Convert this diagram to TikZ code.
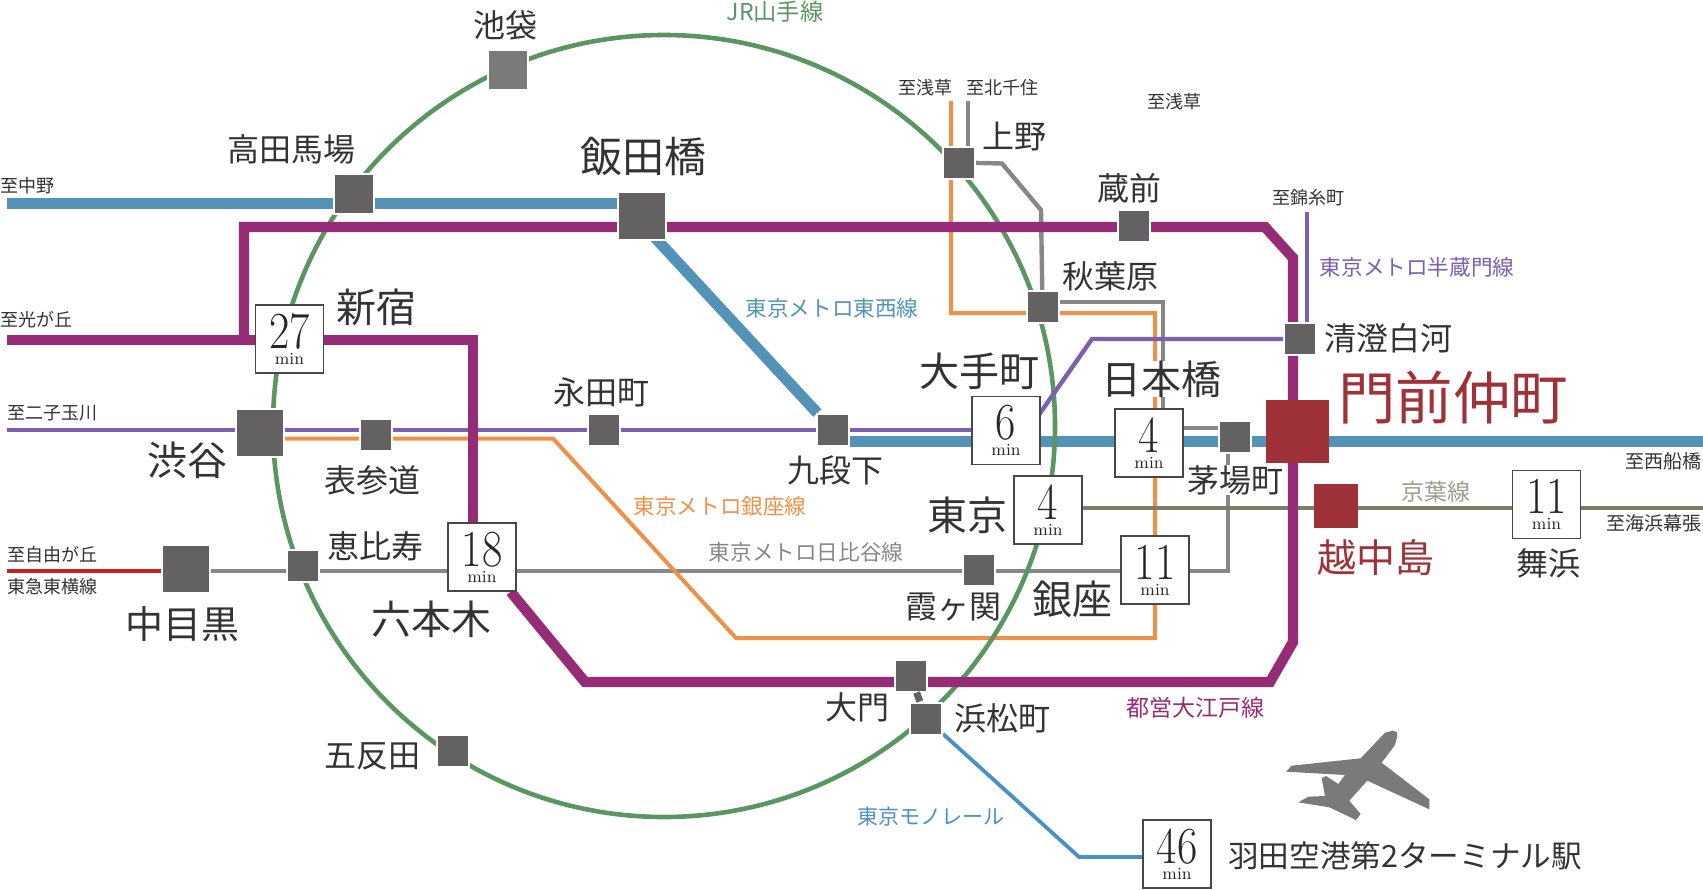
\documentclass[tikz,border=0pt]{standalone}
\usepackage{fontspec}
\usetikzlibrary{backgrounds}
\newfontfamily\jpfont{Noto Sans CJK JP}
\newcommand{\mintime}[1]{{\fontsize{26}{26}\selectfont\rmfamily\scalebox{0.85}[1]{#1}}\\[-4pt]{\fontsize{8.5}{8.5}\selectfont\rmfamily min}}
\definecolor{stngray}{HTML}{636162}
\definecolor{txtgray}{HTML}{333333}
\definecolor{redbox}{HTML}{9F3238}
\definecolor{tozaiblue}{HTML}{5493B8}
\definecolor{oedopurple}{HTML}{962B76}
\definecolor{ginzaorange}{HTML}{EE9148}
\definecolor{hanzoviolet}{HTML}{7C5FAE}
\definecolor{jrgreen}{HTML}{5A9662}
\definecolor{hibiyagray}{HTML}{878787}
\definecolor{keiyoolive}{HTML}{7E7B68}
\definecolor{monoblue}{HTML}{4B90C5}
\definecolor{toyokored}{HTML}{C4201E}
\begin{document}
\begin{tikzpicture}[x=0.5pt, y=-0.5pt,
    stn/.style = {draw=white, line width=1pt, fill=stngray, minimum size=#1, inner sep=0pt},
    stn/.default = 16pt,
    redstn/.style = {fill=redbox, minimum size=#1, inner sep=0pt},
    timebox/.style = {draw=black!72, line width=0.8pt, fill=white, minimum size=34pt, inner sep=0pt, align=center, text=black!85},
    big/.style = {font=\jpfont\fontsize{20}{20}\selectfont, text=txtgray, inner sep=0pt},
    mid/.style = {font=\jpfont\fontsize{16}{16}\selectfont, text=txtgray, inner sep=0pt},
    dest/.style = {font=\jpfont\fontsize{9}{9}\selectfont, text=txtgray, inner sep=0pt},
    linename/.style = {font=\jpfont\fontsize{10.8}{10.8}\selectfont, text=#1, inner sep=0pt},
    tozai/.style = {tozaiblue, line width=5.5pt},
    oedo/.style = {oedopurple, line width=5.2pt},
    ginza/.style = {ginzaorange, line width=2pt},
    hanzo/.style = {hanzoviolet, line width=2.2pt},
    yamanote/.style = {jrgreen, line width=2.3pt},
    hibiya/.style = {hibiyagray, line width=2.2pt},
    keiyo/.style = {keiyoolive, line width=2.2pt},
    toyoko/.style = {toyokored, line width=2.3pt},
    monorail/.style = {monoblue, line width=1.9pt}]
    \useasboundingbox (0,0) rectangle (1703,889);

    % stations
    \node[stn=20pt, fill=black!52] (ikebukuro) at (508,69.5) {};
    \node[stn=20pt] (takadanobaba) at (353.5,194) {};
    \node[stn=24pt] (iidabashi) at (642,216) {};
    \node[stn=24pt] (shibuya) at (260,433) {};
    \node[stn] (omotesando) at (375.5,435) {};
    \node[stn] (nagatacho) at (604,430) {};
    \node[stn] (kudanshita) at (833,430) {};
    \node[stn=24pt] (nakameguro) at (185.5,569) {};
    \node[stn] (ebisu) at (302.5,566) {};
    \node[stn] (gotanda) at (452.5,751) {};
    \node[stn] (daimon) at (910.5,675.5) {};
    \node[stn] (hamamatsucho) at (926,718.5) {};
    \node[stn] (ueno) at (958.5,162.5) {};
    \node[stn] (kuramae) at (1133.5,226) {};
    \node[stn] (akihabara) at (1042.5,307) {};
    \node[stn] (kiyosumi) at (1300,339) {};
    \node[stn] (kayabacho) at (1235,437) {};
    \node[stn] (kasumigaseki) at (978.5,570) {};
    \node[redstn=31.5pt] (monzen) at (1297,431) {};
    \node[redstn=22pt] (etchujima) at (1336,505.5) {};
    \draw[stngray, line width=3.5pt] (daimon) -- (hamamatsucho);

    % boxes with minutes
    \node[timebox] (shinjuku) at (289.5,339) {\mintime{27}};
    \node[timebox] (roppongi) at (482,557) {\mintime{18}};
    \node[timebox] (otemachi) at (1006,430.5) {\mintime{6}};
    \node[timebox] (nihombashi) at (1149,443) {\mintime{4}};
    \node[timebox] (tokyo) at (1048,510) {\mintime{4}};
    \node[timebox] (ginzast) at (1155,570) {\mintime{11}};
    \node[timebox] (maihama) at (1546.5,504.5) {\mintime{11}};
    \node[timebox] (haneda) at (1177,854) {\mintime{46}};

    % station names
    \node[mid] (ikebukurol) at (505,25) {池袋};
    \node[mid] (takadanobabal) at (291,149) {高田馬場};
    \node[big, font=\jpfont\fontsize{21}{21}\selectfont] (iidabashil) at (643,157) {飯田橋};
    \node[big] (shinjukul) at (376,307) {新宿};
    \node[big] (shibuyal) at (187,460) {渋谷};
    \node[mid] (omotesandol) at (372,480) {表参道};
    \node[mid] (nagatachol) at (601,392) {永田町};
    \node[mid] (kudanshital) at (835,470) {九段下};
    \node[big, font=\jpfont\fontsize{19}{19}\selectfont] (nakameguroul) at (182,624) {中目黒};
    \node[mid] (ebisul) at (375,546) {恵比寿};
    \node[big] (roppongil) at (431,619) {六本木};
    \node[mid] (gotandal) at (372,756) {五反田};
    \node[mid] (daimonl) at (857,707) {大門};
    \node[mid] (hamamatsuchol) at (1002,718) {浜松町};
    \node[mid] (uenol) at (1014,137) {上野};
    \node[mid] (kuramael) at (1129,188) {蔵前};
    \node[mid] (akihabaral) at (1110,276) {秋葉原};
    \node[mid] (kiyosumil) at (1388,338) {清澄白河};
    \node[big] (otemachil) at (979,371) {大手町};
    \node[big, fill=white] (nihombashil) at (1161,379) {日本橋};
    \node[mid, fill=white] (kayabachol) at (1235,480) {茅場町};
    \node[big] (tokyol) at (967,515) {東京};
    \node[big] (ginzal) at (1072,599) {銀座};
    \node[mid] (kasumigasekil) at (953,607) {霞ヶ関};
    \node[mid] (maihamal) at (1548,563) {舞浜};
    \node[big, font=\jpfont\fontsize{28.7}{28.7}\selectfont, text=redbox] (monzenl) at (1453,398) {門前仲町};
    \node[big, font=\jpfont\fontsize{19.5}{19.5}\selectfont, text=redbox] (etchujimal) at (1376,558) {越中島};
    \node[mid, font=\jpfont\fontsize{15.3}{15.3}\selectfont] (hanedal) at (1405,856) {羽田空港第2ターミナル駅};

    % where the lines go
    \node[dest, anchor=west] (tonakano) at (0,186) {至中野};
    \node[dest, anchor=west] (tohikari) at (0,320) {至光が丘};
    \node[dest, anchor=west] (tofutako) at (7,413) {至二子玉川};
    \node[dest, anchor=west] (tojiyu) at (7,555) {至自由が丘};
    \node[dest, anchor=west] (toyokol) at (7,587) {東急東横線};
    \node[dest] (toasakusa) at (925,88) {至浅草};
    \node[dest] (tokita) at (1002,88) {至北千住};
    \node[dest] (toasakusb) at (1174,102) {至浅草};
    \node[dest] (tokinshi) at (1308,198) {至錦糸町};
    \node[dest, font=\jpfont\fontsize{9.5}{9.5}\selectfont] (tofuna) at (1663,461) {至西船橋};
    \node[dest, font=\jpfont\fontsize{9.5}{9.5}\selectfont] (tomakuhari) at (1654,523) {至海浜幕張};

    % line names
    \node[linename=jrgreen, font=\jpfont\fontsize{11.6}{11.6}\selectfont] (jrl) at (775,12) {JR山手線};
    \node[linename=tozaiblue] (tozail) at (832,308.5) {東京メトロ東西線};
    \node[linename=hanzoviolet] (hanzol) at (1417,267) {東京メトロ半蔵門線};
    \node[linename=ginzaorange] (ginzaline) at (720,506) {東京メトロ銀座線};
    \node[linename=hibiyagray] (hibiyal) at (806,552) {東京メトロ日比谷線};
    \node[linename=keiyoolive!75, font=\jpfont\fontsize{11.5}{11.5}\selectfont] (keiyol) at (1436,492) {京葉線};
    \node[linename=oedopurple, font=\jpfont\fontsize{11.5}{11.5}\selectfont] (oedol) at (1195,708) {都営大江戸線};
    \node[linename=monoblue, font=\jpfont\fontsize{10.5}{10.5}\selectfont] (monol) at (931,816) {東京モノレール};

    % free ends and offsets
    \coordinate (tozaiw) at (7,203.5);
    \coordinate (tozaie) at (1703,441.5);
    \coordinate (tozaidiag) at (635,216);
    \coordinate (oedow) at (7,340);
    \coordinate (hanzow) at (7,430);
    \coordinate (kinshicho) at (1307,212);
    \coordinate (ginzaw) at (553,438.5);
    \coordinate (ginzan) at (951,101);
    \coordinate (kitasenju) at (968,101);
    \coordinate (hibiyae) at (1228,571);
    \coordinate (akihagray) at (1163,302);
    \coordinate (nihonkaya) at (1200,428);
    \coordinate (keiyoe) at (1703,508);
    \coordinate (toyokow) at (7,571);

    \begin{scope}[on background layer]
        \draw[hibiya] (hibiyae -| nakameguro) -- (hibiyae) -- (hibiyae |- kayabacho);
        \draw[hibiya] (kitasenju) -- (kitasenju |- ueno);
        \draw[hibiya] (ueno) -- (1002,163.5) -- (1041,210) -- (akihabara);
        \draw[hibiya] (akihagray -| akihabara) -- (akihagray) -- (akihagray |- nihombashi);
        \draw[hibiya] (nihonkaya -| nihombashi) -- (nihonkaya -| kayabacho);
        \draw[ginza] (ginzan) -- (951,313) -- (1155,313) -- (1155,638) -- (736,638) -- (ginzaw) -- (ginzaw -| shibuya);
        \draw[keiyo] (keiyoe) -- (keiyoe -| tokyo);
        \draw[tozai] (tozaiw) -- (tozaiw -| iidabashi);
        \draw[tozai] (tozaidiag) -- (kudanshita);
        \draw[tozai] (tozaie -| kudanshita) -- (tozaie);
        \draw[yamanote] (664,426) circle[radius=391];
        \draw[hanzo] (hanzow) -- (hanzow -| otemachi);
        \draw[hanzo] (otemachi) -- (1030,427.5) -- (1092,339) -- (kiyosumi);
        \draw[hanzo] (kinshicho) -- (kinshicho |- kiyosumi);
        \draw[oedo] (oedow) -- (473,340) -- (473,540);
        \draw[oedo] (244,340) -- (244,227) -- (1265,227) -- (1293,258) -- (1293,642) -- (1270,682) -- (585,682) -- (roppongi);
        \draw[toyoko] (toyokow) -- (toyokow -| nakameguro);
        \draw[monorail] (hamamatsucho) -- (1079,857) -- (haneda |- 1079,857);
    \end{scope}

    % airplane
    \begin{scope}[shift={(1270,710)}, scale=0.3333]
        \fill[black!52] (345,68) -- (368,62) -- (380,66) -- (382,78) -- (375,105) -- (335,158) -- (478,268) -- (478,298)
            -- (292,212) -- (238,272) -- (272,312) -- (258,330) -- (178,292) -- (85,277) -- (115,260) -- (165,258)
            -- (155,205) -- (168,198) -- (205,222) -- (225,195) -- (48,185) -- (65,167) -- (272,145) -- cycle;
    \end{scope}
\end{tikzpicture}
\end{document}
